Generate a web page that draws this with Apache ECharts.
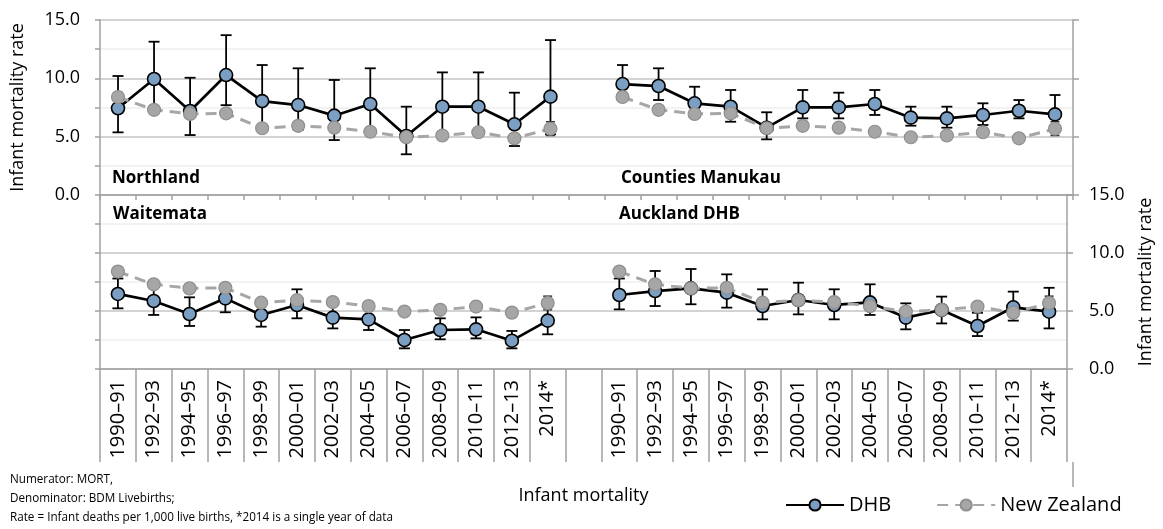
<!DOCTYPE html>
<html><head><meta charset="utf-8">
<script src="https://cdn.jsdelivr.net/npm/echarts@6/dist/echarts.min.js"></script>
<style>html,body{margin:0;padding:0;background:#fff}#c{width:1163px;height:529px}</style>
</head><body><div id="c"></div>
<script>
// ---- data ----
const periods = ['1990–91','1992–93','1994–95','1996–97','1998–99','2000–01','2002–03','2004–05','2006–07','2008–09','2010–11','2012–13','2014*'];

const nzRate = [8.40, 7.30, 6.95, 7.00, 5.72, 5.93, 5.77, 5.42, 4.95, 5.10, 5.38, 4.86, 5.68];
const nzLow  = [8.10, 7.00, 6.65, 6.70, 5.45, 5.65, 5.50, 5.15, 4.70, 4.85, 5.12, 4.60, 5.10];
const nzHigh = [8.80, 7.60, 7.25, 7.30, 6.00, 6.20, 6.05, 5.70, 5.20, 5.35, 5.65, 5.12, 6.28];

const northlandRate = [7.43, 9.94, 7.20, 10.28, 8.05, 7.71, 6.80, 7.80, 5.06, 7.57, 7.57, 6.06, 8.43];
const northlandLow  = [5.37, 7.30, 5.14, 7.70, 5.60, 5.60, 4.71, 5.50, 3.49, 5.35, 5.35, 4.20, 5.20];
const northlandHigh = [10.20, 13.14, 10.05, 13.70, 11.14, 10.86, 9.86, 10.86, 7.57, 10.51, 10.51, 8.77, 13.28];

const countiesRate = [9.51, 9.34, 7.86, 7.57, 5.77, 7.51, 7.51, 7.80, 6.63, 6.57, 6.86, 7.22, 6.91];
const countiesLow  = [8.30, 8.14, 6.70, 6.28, 4.77, 6.57, 6.57, 6.86, 5.94, 5.77, 6.00, 6.57, 5.50];
const countiesHigh = [11.14, 10.86, 9.28, 9.00, 7.09, 9.00, 8.77, 9.00, 7.57, 7.57, 7.86, 8.14, 8.57];

const waitemataRate = [6.47, 5.86, 4.74, 6.09, 4.66, 5.52, 4.43, 4.28, 2.50, 3.36, 3.42, 2.44, 4.17];
const waitemataLow  = [5.23, 4.66, 3.71, 4.89, 3.65, 4.37, 3.50, 3.36, 1.78, 2.56, 2.64, 1.78, 2.99];
const waitemataHigh = [7.80, 7.10, 6.18, 7.30, 5.75, 6.87, 5.50, 5.30, 3.36, 4.37, 4.45, 3.28, 5.60];

const aucklandRate = [6.38, 6.72, 6.95, 6.58, 5.43, 5.95, 5.52, 5.74, 4.43, 5.09, 3.71, 5.32, 4.94];
const aucklandLow  = [5.14, 5.43, 5.58, 5.29, 4.28, 4.71, 4.28, 4.66, 3.42, 3.93, 2.84, 4.17, 3.50];
const aucklandHigh = [7.80, 8.45, 8.62, 8.16, 6.87, 7.44, 6.87, 7.30, 5.66, 6.24, 4.85, 6.67, 7.00];

const yTicks = [0, 5, 10, 15];
const footnote = ['Numerator: MORT,', 'Denominator: BDM Livebirths;', 'Rate = Infant deaths per 1,000 live births, *2014 is a single year of data'];

// ---- build ----
const FONT = 'Open Sans';
const categories = [...periods, '', ...periods];
const join = (a, b) => [...a, null, ...b];
const errData = (lo, hi) => lo.map((v, i) => v == null ? null : [i, v, hi[i]]).filter(d => d);

const AX = '#a0a0a0';
const DHB_FILL = '#7b9fc3';
const NZ_GREY = '#a6a6a6';

function errRender(cap, color, lw) {
  return function (params, api) {
    const x = api.value(0);
    const pLo = api.coord([x, api.value(1)]);
    const pHi = api.coord([x, api.value(2)]);
    const s = { stroke: color, lineWidth: lw };
    return { type: 'group', children: [
      { type: 'line', shape: { x1: pLo[0], y1: pLo[1], x2: pHi[0], y2: pHi[1] }, style: s },
      { type: 'line', shape: { x1: pHi[0] - cap, y1: pHi[1], x2: pHi[0] + cap, y2: pHi[1] }, style: s },
      { type: 'line', shape: { x1: pLo[0] - cap, y1: pLo[1], x2: pLo[0] + cap, y2: pLo[1] }, style: s }
    ]};
  };
}

function panelSeries(gi, rate, low, high) {
  const xi = gi, yi = gi * 2;
  return [
    { type: 'custom', xAxisIndex: xi, yAxisIndex: yi, z: 2, silent: true,
      renderItem: errRender(5.5, '#000', 1.8), encode: { x: 0, y: [1, 2] },
      data: errData(low, high) },
    { type: 'custom', xAxisIndex: xi, yAxisIndex: yi, z: 2, silent: true,
      renderItem: errRender(4.5, '#333', 1.5), encode: { x: 0, y: [1, 2] },
      data: errData(join(nzLow, nzLow), join(nzHigh, nzHigh)) },
    { name: 'DHB', type: 'line', xAxisIndex: xi, yAxisIndex: yi, z: 3,
      data: rate, symbol: 'circle', symbolSize: 13, showAllSymbol: true,
      lineStyle: { color: '#000', width: 2.7 },
      itemStyle: { color: DHB_FILL, borderColor: '#000', borderWidth: 1.6 } },
    { name: 'New Zealand', type: 'line', xAxisIndex: xi, yAxisIndex: yi, z: 4,
      data: join(nzRate, nzRate), symbol: 'circle', symbolSize: 13, showAllSymbol: true,
      lineStyle: { color: NZ_GREY, width: 3, type: [11, 7] },
      itemStyle: { color: NZ_GREY, borderColor: '#8f8f8f', borderWidth: 1.2 } }
  ];
}

const grid = [
  { left: 100, right: 90, top: 20, height: 175 },
  { left: 100, right: 90, top: 195, height: 174 }
];

const xAxis = [
  { gridIndex: 0, type: 'category', data: categories, boundaryGap: true,
    axisLine: { lineStyle: { color: AX, width: 1.5 } },
    axisTick: { show: true, interval: 0, length: 5, lineStyle: { color: AX, width: 1.5 } },
    axisLabel: { show: false } },
  { gridIndex: 1, type: 'category', data: categories, boundaryGap: true,
    name: 'Infant mortality', nameLocation: 'middle', nameGap: 118,
    nameTextStyle: { fontFamily: FONT, fontSize: 18, color: '#000' },
    axisLine: { lineStyle: { color: AX, width: 1.5 } },
    axisTick: { show: true, interval: 0, length: 93, lineStyle: { color: AX, width: 1.5 } },
    axisLabel: { interval: 0, rotate: 90, margin: 11, fontFamily: FONT, fontSize: 20, color: '#000' } }
];

const splitLine = { show: true, lineStyle: { color: ['#c4c4c4', '#eeeeee'], width: 1.5 } };
const fmt = v => (yTicks.indexOf(v) >= 0 ? v.toFixed(1) : '');

const yAxis = [
  { gridIndex: 0, type: 'value', position: 'left', min: 0, max: 15, interval: 2.5,
    name: 'Infant mortality rate', nameLocation: 'middle', nameGap: 73,
    nameTextStyle: { fontFamily: FONT, fontSize: 18, color: '#000' },
    axisLine: { show: true, lineStyle: { color: AX, width: 1.5 } },
    axisTick: { show: true, length: 5, lineStyle: { color: AX, width: 1.5 } },
    axisLabel: { formatter: fmt, margin: 20, fontFamily: FONT, fontSize: 18, color: '#000' },
    splitLine },
  { gridIndex: 0, type: 'value', position: 'right', min: 0, max: 15, interval: 5,
    axisLine: { show: true, lineStyle: { color: AX, width: 1.5 } },
    axisTick: { show: true, length: 6, lineStyle: { color: AX, width: 1.5 } },
    axisLabel: { show: false }, splitLine: { show: false } },
  { gridIndex: 1, type: 'value', position: 'left', min: 0, max: 15, interval: 2.5,
    axisLine: { show: true, lineStyle: { color: AX, width: 1.5 } },
    axisTick: { show: true, length: 5, lineStyle: { color: AX, width: 1.5 } },
    axisLabel: { show: false }, splitLine },
  { gridIndex: 1, type: 'value', position: 'right', min: 0, max: 15, interval: 5,
    name: 'Infant mortality rate', nameLocation: 'middle', nameGap: 70, nameRotate: 90,
    nameTextStyle: { fontFamily: FONT, fontSize: 18, color: '#000' },
    axisLine: { show: true, lineStyle: { color: AX, width: 1.5 } },
    axisTick: { show: true, length: 6, lineStyle: { color: AX, width: 1.5 } },
    axisLabel: { formatter: fmt, margin: 22, fontFamily: FONT, fontSize: 18, color: '#000' },
    splitLine: { show: false } }
];

const series = [
  ...panelSeries(0, join(northlandRate, countiesRate), join(northlandLow, countiesLow), join(northlandHigh, countiesHigh)),
  ...panelSeries(1, join(waitemataRate, aucklandRate), join(waitemataLow, aucklandLow), join(waitemataHigh, aucklandHigh))
];

const panelLabel = (text, x, y) => ({ type: 'text', x, y,
  style: { text, font: 'bold 17px "Open Sans"', fill: '#000', verticalAlign: 'middle' } });

const chart = echarts.init(document.getElementById('c'), null, { renderer: 'canvas' });
chart.setOption({
  animation: false,
  backgroundColor: '#fff',
  grid, xAxis, yAxis, series,
  legend: { data: ['DHB', 'New Zealand'], left: 780, top: 490, itemWidth: 58, itemHeight: 14, itemGap: 45,
    textStyle: { fontFamily: FONT, fontSize: 20, color: '#000' } },
  graphic: [
    panelLabel('Northland', 112, 178),
    panelLabel('Counties Manukau', 621, 178),
    panelLabel('Waitemata', 113, 214),
    panelLabel('Auckland DHB', 619, 214),
    { type: 'line', shape: { x1: 1073, y1: 462, x2: 1073, y2: 487 }, style: { stroke: AX, lineWidth: 1.5 } },
    { type: 'text', x: 10, y: 470,
      style: { text: footnote.join('\n'), font: '11.7px "Open Sans"', fill: '#000', lineHeight: 19 } }
  ]
});
</script></body></html>
